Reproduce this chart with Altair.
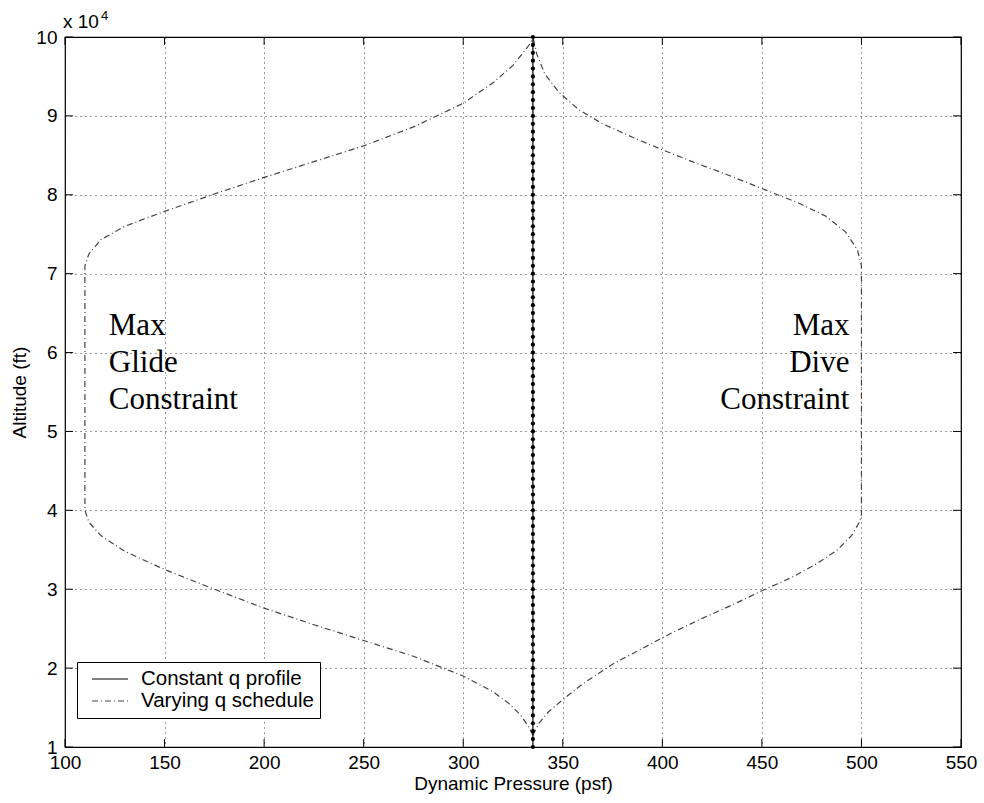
import altair as alt
import pandas as pd

# ---- data ----
x_ticks = [100, 150, 200, 250, 300, 350, 400, 450, 500, 550]
y_ticks = [10000, 20000, 30000, 40000, 50000, 60000, 70000, 80000, 90000, 100000]

const_q = 335
const_alt = [10000, 11000, 12000, 13000, 14000, 15000, 16000, 17000, 18000, 19000,
             20000, 21000, 22000, 23000, 24000, 25000, 26000, 27000, 28000, 29000,
             30000, 31000, 32000, 33000, 34000, 35000, 36000, 37000, 38000, 39000,
             40000, 41000, 42000, 43000, 44000, 45000, 46000, 47000, 48000, 49000,
             50000, 51000, 52000, 53000, 54000, 55000, 56000, 57000, 58000, 59000,
             60000, 61000, 62000, 63000, 64000, 65000, 66000, 67000, 68000, 69000,
             70000, 71000, 72000, 73000, 74000, 75000, 76000, 77000, 78000, 79000,
             80000, 81000, 82000, 83000, 84000, 85000, 86000, 87000, 88000, 89000,
             90000, 91000, 92000, 93000, 94000, 95000, 96000, 97000, 98000, 99000,
             100000]

left_q = [335, 333, 329, 323, 315, 300, 275, 250, 225, 200, 175, 150, 130, 118, 112, 110,
          110, 112, 118, 130, 150, 175, 200, 225, 250, 275, 300, 315, 325, 331, 334, 335]
left_alt = [11500, 12500, 14000, 15500, 17000, 19000, 21500, 23500, 25500, 27600, 30000,
            32500, 34800, 36800, 38500, 40000, 71000, 72500, 74300, 76000, 77900, 80100,
            82200, 84200, 86200, 88600, 91600, 94200, 96400, 98300, 99300, 100000]

right_q = [335, 338, 343, 350, 360, 375, 390, 405, 420, 435, 450, 465, 478, 488, 495, 499,
           500, 500, 498, 492, 482, 468, 450, 432, 415, 400, 385, 370, 358, 348, 341, 337, 335]
right_alt = [11500, 13000, 14500, 16000, 18000, 20500, 22500, 24500, 26300, 28000, 29800,
             31500, 33300, 35000, 36800, 38500, 39500, 71000, 73000, 75300, 77300, 79000,
             80800, 82600, 84200, 85700, 87300, 89000, 90800, 93000, 95300, 97800, 100000]

series_names = ["Constant q profile", "Varying q schedule"]

left_text = ["Max", "Glide", "Constraint"]
right_text = ["Max", "Dive", "Constraint"]
text_alt = [62200, 57500, 52900]
left_text_q = 122
right_text_q = 494

# ---- tables ----
rows = []
for i, (q, a) in enumerate(zip(left_q, left_alt)):
    rows.append({"q": q, "alt": a, "series": series_names[1], "branch": "left", "ord": i})
for i, (q, a) in enumerate(zip(right_q, right_alt)):
    rows.append({"q": q, "alt": a, "series": series_names[1], "branch": "right", "ord": i})
for i, a in enumerate(const_alt):
    rows.append({"q": const_q, "alt": a, "series": series_names[0], "branch": "const", "ord": i})
lines = pd.DataFrame(rows)
const_df = pd.DataFrame({"q": [const_q] * len(const_alt), "alt": const_alt})

ltext = pd.DataFrame({"q": [left_text_q] * 3, "alt": text_alt, "t": left_text})
rtext = pd.DataFrame({"q": [right_text_q] * 3, "alt": text_alt, "t": right_text})
xt = pd.DataFrame({"q": x_ticks})
yt = pd.DataFrame({"alt": y_ticks})

FONT = "Liberation Sans"
SERIF = "Liberation Serif"
W, H = 896, 710
TL = 8  # inside tick length

xs = alt.Scale(domain=[100, 550], nice=False, zero=False)
ys = alt.Scale(domain=[10000, 100000], nice=False, zero=False)

X_AX = alt.Axis(orient="bottom", values=x_ticks, title="Dynamic Pressure (psf)",
                grid=True, gridColor="black", gridDash=[1, 4], gridOpacity=0.8,
                ticks=False, domain=False, labelFont=FONT, labelFontSize=19,
                labelColor="black", labelPadding=6, titleFont=FONT, titleFontSize=19,
                titleFontWeight="normal", titleColor="black", titlePadding=2,
                labelFlush=False)
Y_AX = alt.Axis(orient="left", values=y_ticks, labelExpr="datum.value / 10000",
                title="Altitude (ft)", grid=True, gridColor="black", gridDash=[1, 4],
                gridOpacity=0.8, ticks=False, domain=False, labelFont=FONT,
                labelFontSize=19, labelColor="black", labelPadding=8, titleFont=FONT,
                titleFontSize=19, titleFontWeight="normal", titleColor="black",
                titlePadding=6, labelFlush=False)

def X():
    return alt.X("q:Q", scale=xs, axis=X_AX, title="Dynamic Pressure (psf)")

def Y():
    return alt.Y("alt:Q", scale=ys, axis=Y_AX, title="Altitude (ft)")

legend_kw = dict(orient="none", legendX=12, legendY=625, title=None,
                 labelFont=FONT, labelFontSize=20.5, labelColor="black", labelLimit=0,
                 symbolType="M-0.2,0H3.4", symbolSize=400, symbolStrokeWidth=1.2,
                 strokeColor="black", fillColor="white", padding=6,
                 rowPadding=0, labelOffset=36)

main = alt.Chart(lines).mark_line(strokeWidth=1.2).encode(
    x=X(), y=Y(),
    color=alt.Color("series:N", scale=alt.Scale(domain=series_names, range=["black", "#444444"]),
                    legend=alt.Legend(**legend_kw)),
    strokeDash=alt.StrokeDash("series:N",
                              scale=alt.Scale(domain=series_names, range=[[1, 0], [6, 3, 1, 3]]),
                              legend=alt.Legend(**legend_kw)),
    detail="branch:N",
    order="ord:Q",
)

beads = alt.Chart(const_df).mark_circle(size=18, color="black", opacity=1).encode(x=X(), y=Y())

ann_l = alt.Chart(ltext).mark_text(font=SERIF, fontSize=31, color="black",
                                   align="left", baseline="alphabetic").encode(
    x=X(), y=Y(), text="t:N")
ann_r = alt.Chart(rtext).mark_text(font=SERIF, fontSize=31, color="black",
                                   align="right", baseline="alphabetic").encode(
    x=X(), y=Y(), text="t:N")

# inside ticks on all four sides (MATLAB style)
tick_style = dict(color="black", strokeWidth=1)
t_bottom = alt.Chart(xt).mark_rule(**tick_style).encode(
    x=X(), y=alt.value(H - TL), y2=alt.value(H))
t_top = alt.Chart(xt).mark_rule(**tick_style).encode(
    x=X(), y=alt.value(0), y2=alt.value(TL))
t_left = alt.Chart(yt).mark_rule(**tick_style).encode(
    y=Y(), x=alt.value(0), x2=alt.value(TL))
t_right = alt.Chart(yt).mark_rule(**tick_style).encode(
    y=Y(), x=alt.value(W - TL), x2=alt.value(W))

exp_base = alt.Chart(pd.DataFrame({"t": ["x 10"]})).mark_text(
    font=FONT, fontSize=19, color="black", align="left", baseline="alphabetic"
).encode(x=alt.value(-2), y=alt.value(-9), text="t:N")
exp_pow = alt.Chart(pd.DataFrame({"t": ["4"]})).mark_text(
    font=FONT, fontSize=13, color="black", align="left", baseline="alphabetic"
).encode(x=alt.value(36), y=alt.value(-17), text="t:N")

chart = alt.layer(main, beads, ann_l, ann_r, t_bottom, t_top, t_left, t_right,
                  exp_base, exp_pow).properties(
    width=W, height=H,
    padding={"left": 65, "top": 37, "right": 23, "bottom": 56},
    autosize=alt.AutoSizeParams(type="none"),
    background="white",
).configure_view(stroke="black", strokeWidth=1.2)

chart.save("out.html", embed_options={"renderer": "svg", "actions": False})
